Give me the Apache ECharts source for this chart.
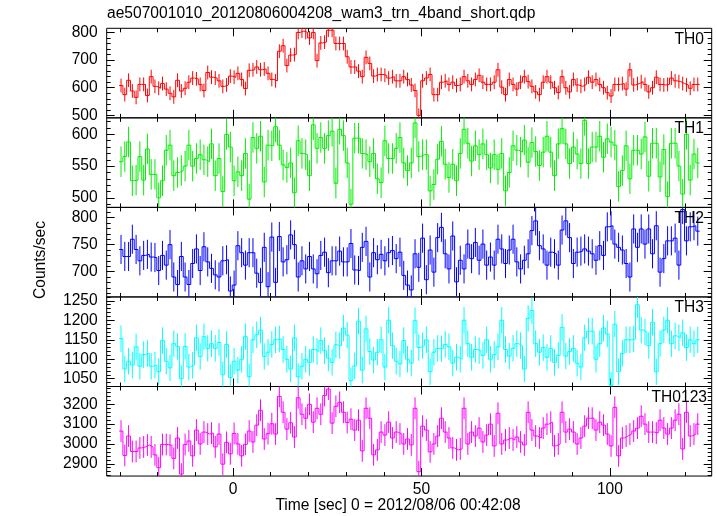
<!DOCTYPE html>
<html><head><meta charset="utf-8">
<script src="https://cdn.jsdelivr.net/npm/echarts@6/dist/echarts.min.js"></script>
<style>html,body{margin:0;padding:0;background:#fff}#c{width:717px;height:516px}</style>
</head><body><div id="c"></div>
<script>
const titleText = 'ae507001010_20120806004208_wam3_trn_4band_short.qdp';
const xLabelText = 'Time [sec] 0 = 2012/08/06 00:42:08';
const yLabelText = 'Counts/sec';
const bandNames = ['TH0', 'TH1', 'TH2', 'TH3', 'TH0123'];
const bandColors = ['#ff0000', '#00ee00', '#0000ff', '#00ffff', '#ff00ff'];

// time binning of the light curve (1 s bins)
const tStart = -30.2;
const binSize = 1;

const th0 = [
608,575,627,588,565,612,612,572,640,605,
598,615,595,580,567,627,588,598,620,635,
632,612,590,655,638,635,625,605,610,642,
638,652,630,597,663,665,675,665,668,652,
630,625,732,752,680,718,720,800,805,800,
780,800,698,762,765,808,808,760,760,760,
712,675,675,660,640,710,688,642,648,648,
645,635,
640,625,625,640,630,610,590,500,625,635,
648,575,575,620,625,612,620,608,612,640,
625,612,630,645,620,612,612,620,665,602,
575,630,612,595,620,640,622,605,585,575,
620,640,620,600,583,640,600,585,630,610,
605,612,638,620,630,612,600,582,570,612,
612,615,595,665,610,615,622,612,585,600,
638,612,610,612,635,625,622,615,610,598,
612,612];

const th1 = [
557,565,588,527,528,565,528,577,537,537,
500,527,575,583,535,540,543,550,583,550,
562,568,560,557,585,535,562,510,600,580,
527,541,535,570,498,595,578,597,525,583,
582,612,583,552,548,555,508,590,570,568,
535,615,578,595,578,598,605,523,608,598,
555,490,594,594,570,568,557,570,530,524,
590,562,
562,578,595,555,543,555,618,565,568,568,
511,521,561,589,553,532,553,527,570,608,
586,558,582,568,585,568,547,568,545,570,
511,540,582,575,572,591,556,587,573,551,
572,597,572,535,585,609,585,554,580,569,
554,622,554,580,580,597,564,593,588,583,
518,543,582,530,575,575,569,596,534,586,
586,533,576,502,586,586,550,506,600,528,
569,555];

const th2 = [
741,728,728,760,741,720,730,732,727,726,
702,730,712,750,690,676,728,690,676,715,
742,702,746,718,706,694,690,720,722,664,
675,748,735,712,735,735,697,680,745,672,
764,680,765,718,722,768,750,690,720,705,
728,705,696,730,736,698,720,720,738,718,
718,752,703,702,745,756,690,735,722,732,
720,735,
739,724,736,693,675,666,733,708,762,685,
740,699,763,782,733,705,766,681,721,705,
751,724,754,721,751,712,727,712,760,742,
715,740,760,718,705,721,733,776,794,748,
742,712,736,733,712,777,794,763,715,736,
738,742,738,733,721,748,730,783,785,751,
745,740,715,690,779,745,779,751,779,733,
785,699,724,757,757,762,712,815,757,783,
785,775];

const th3 = [
1153,1075,1095,1085,1132,1082,1112,1115,1082,1085,
1068,1148,1095,1078,1140,1133,1050,1133,1080,1085,
1155,1107,1158,1128,1140,1128,1143,1060,1138,1053,
1095,1072,1100,1158,1055,1150,1163,1175,1107,1118,
1138,1150,1152,1125,1100,1075,1155,1055,1082,1100,
1092,1125,1120,1148,1122,1103,1092,1137,1135,1180,
1162,1045,1083,1198,1072,1178,1120,1098,1118,1150,
1080,1200,
1135,1095,1088,1148,1100,1090,1199,1130,1135,1150,
1068,1118,1128,1127,1138,1132,1090,1105,1100,1200,
1140,1105,1125,1122,1110,1150,1100,1112,1132,1200,
1125,1108,1128,1140,1135,1075,1205,1225,1140,1118,
1130,1105,1128,1092,1110,1182,1108,1120,1128,1090,
1080,1155,1172,1172,1100,1140,1180,1165,1033,1190,
1068,1115,1150,1150,1152,1240,1175,1170,1135,1195,
1068,1140,1175,1200,1140,1160,1155,1168,1130,1150,
1140,1150];

const th0123 = [
3065,2942,3040,2962,2962,2980,2985,2995,2985,2945,
2880,2997,2997,2993,2927,3030,2848,2997,3015,2940,
3070,3000,3060,3050,3055,2985,3050,2898,3008,2950,
3053,3000,2940,2998,3065,3010,3095,3170,3025,3052,
3102,3050,
3240,3160,3075,3107,3035,3233,3150,3130,3200,3110,
3180,3150,3245,3277,3105,3190,3210,3160,3108,3125,
3070,3120,2965,3180,3130,2945,2970,3060,3045,3110,
3030,3060,3050,3000,3025,2995,3180,2860,3090,3070,
2960,3000,3040,3130,3060,3030,2980,2970,2975,3180,
3000,3060,3040,3080,3010,3045,3100,2990,3155,3000,
3020,3030,3020,3035,3010,2995,3160,3070,3040,3030,
3080,3100,3110,2990,3000,3160,3060,3075,3060,3000,
3030,3090,3130,3130,3070,3110,3095,3050,2990,3185,
2940,3030,3040,3050,3065,3080,3140,3100,3060,3060,
3055,3120,3080,3050,3080,3120,3150,2975,3160,3040,
3050,3100];

const bandValues = [th0, th1, th2, th3, th0123];
// typical 1-sigma error bar half-length per band (counts/sec)
const errSize = [25, 24, 27, 34, 55];

const yMin = [491, 485, 653, 1030, 2838];
const yMax = [815, 626, 819, 1260, 3290];
const yMajor = [[500,600,700,800],[500,550,600],[700,750,800],[1050,1100,1150,1200,1250],[2900,3000,3100,3200]];
const yMinorStep = [20, 10, 10, 10, 20];
const xMin = -33.5, xMax = 127;
const xMajor = [0, 50, 100];
const xMinor = [-30,-20,-10,0,10,20,30,40,50,60,70,80,90,100,110,120];

const FONT = "'Liberation Sans', Arial, Helvetica, sans-serif";
const FS = 15.6;
const gLeft = 106.7, gWidth = 605, gTop0 = 28.3, gH = 89.55;

const grids = [], xAxes = [], yAxes = [], series = [];
for (let g = 0; g < 5; g++) {
  grids.push({left: gLeft, width: gWidth, top: gTop0 + gH * g, height: gH,
    show: true, borderColor: '#000', borderWidth: 1, backgroundColor: 'transparent'});
  const tickStyle = {color: '#000', width: 1};
  for (const pos of ['bottom', 'top']) {
    xAxes.push({gridIndex: g, type: 'value', min: xMin, max: xMax, position: pos,
      axisLine: {show: false, onZero: false}, splitLine: {show: false},
      axisTick: {show: true, inside: true, length: 4, customValues: xMinor, lineStyle: tickStyle},
      axisLabel: {show: (g === 4 && pos === 'bottom'), customValues: xMajor, margin: 6,
        formatter: v => String(v), color: '#000', fontSize: FS, fontFamily: FONT}});
    xAxes.push({gridIndex: g, type: 'value', min: xMin, max: xMax, position: pos,
      axisLine: {show: false, onZero: false}, splitLine: {show: false},
      axisTick: {show: true, inside: true, length: 8, customValues: xMajor, lineStyle: tickStyle},
      axisLabel: {show: false}});
  }
  const minors = [];
  const st = yMinorStep[g];
  for (let v = Math.ceil(yMin[g] / st) * st; v <= yMax[g]; v += st) minors.push(v);
  for (const pos of ['left', 'right']) {
    yAxes.push({gridIndex: g, type: 'value', min: yMin[g], max: yMax[g], position: pos,
      axisLine: {show: false, onZero: false}, splitLine: {show: false},
      axisTick: {show: true, inside: true, length: 4, customValues: minors, lineStyle: tickStyle},
      axisLabel: {show: pos === 'left', customValues: yMajor[g], margin: 9,
        formatter: v => String(v), color: '#000', fontSize: FS, fontFamily: FONT}});
    yAxes.push({gridIndex: g, type: 'value', min: yMin[g], max: yMax[g], position: pos,
      axisLine: {show: false, onZero: false}, splitLine: {show: false},
      axisTick: {show: true, inside: true, length: 8, customValues: yMajor[g], lineStyle: tickStyle},
      axisLabel: {show: false}});
  }
  const vals = bandValues[g];
  const stepPts = vals.map((v, i) => [tStart + i * binSize, v]);
  stepPts.push([tStart + vals.length * binSize, vals[vals.length - 1]]);
  const color = bandColors[g];
  series.push({type: 'line', xAxisIndex: g * 4, yAxisIndex: g * 4, data: stepPts,
    step: 'end', symbol: 'none', clip: true, silent: true,
    lineStyle: {color: color, width: 1}});
  const errPts = vals.map((v, i) => [tStart + (i + 0.5) * binSize, v, errSize[g]]);
  series.push({type: 'custom', xAxisIndex: g * 4, yAxisIndex: g * 4, data: errPts, clip: true, silent: true,
    encode: {x: 0, y: 1},
    renderItem: (params, api) => {
      const x = api.value(0), v = api.value(1), e = api.value(2);
      const p1 = api.coord([x, v - e]), p2 = api.coord([x, v + e]);
      return {type: 'line', shape: {x1: p1[0], y1: p1[1], x2: p2[0], y2: p2[1]},
        style: {stroke: color, lineWidth: 1}};
    }});
}

const bandLabelRight = [704, 704, 704, 704, 707];
const graphics = [
  {type: 'text', left: 107, top: 6, style: {text: titleText, fill: '#000', font: FS + 'px ' + FONT}},
  {type: 'text', x: 398, y: 506, style: {text: xLabelText, fill: '#000', font: FS + 'px ' + FONT, align: 'center', verticalAlign: 'middle'}},
  {type: 'text', x: 41, y: 260, rotation: Math.PI / 2, style: {text: yLabelText, fill: '#000', font: FS + 'px ' + FONT, align: 'center', verticalAlign: 'middle'}}
];
bandNames.forEach((n, g) => {
  graphics.push({type: 'text', x: bandLabelRight[g], y: gTop0 + gH * g + 3,
    style: {text: n, fill: '#000', font: FS + 'px ' + FONT, align: 'right', verticalAlign: 'top'}, z: 10});
});

const chart = echarts.init(document.getElementById('c'), null, {renderer: 'canvas'});
chart.setOption({
  animation: false,
  backgroundColor: '#fff',
  grid: grids, xAxis: xAxes, yAxis: yAxes, series: series, graphic: graphics
});
</script></body></html>
